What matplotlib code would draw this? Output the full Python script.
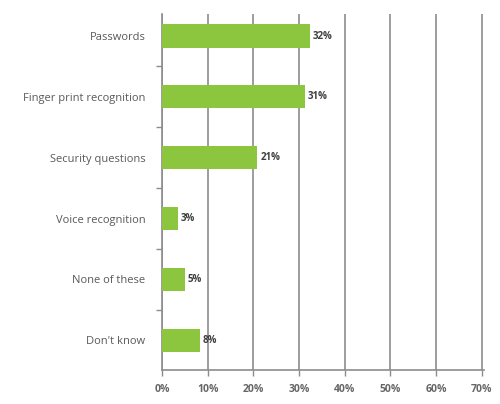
import matplotlib.pyplot as plt
import numpy as np

categories = ["Passwords", "Finger print recognition", "Security questions",
              "Voice recognition", "None of these", "Don't know"]
values = [32.4, 31.3, 20.9, 3.4, 5.0, 8.3]
value_labels = ["32%", "31%", "21%", "3%", "5%", "8%"]
x_ticks = [0, 10, 20, 30, 40, 50, 60, 70]

plt.rcParams['font.family'] = ['Open Sans', 'DejaVu Sans']

fig = plt.figure(figsize=(5.0, 4.04), dpi=100)
ax = fig.add_axes([0.324, 0.084, 0.644, 0.881])

y = np.arange(len(categories))
ax.barh(y, values, height=0.38, color='#8cc63f', zorder=3)

for yi, v, lab in zip(y, values, value_labels):
    ax.text(v + 0.7, yi, lab, va='center', ha='left', fontsize=7,
            fontweight='bold', color='#404040', zorder=4)

ax.set_xlim(0, 70.5)
ax.set_ylim(5.49, -0.36)

ax.set_xticks(x_ticks)
ax.set_xticklabels([f"{t}%" for t in x_ticks], fontsize=7.5,
                   fontweight='bold', color='#666666')
ax.xaxis.grid(True, color='#8c8c8c', linewidth=1.2, zorder=0)
ax.tick_params(axis='x', length=4, width=1, color='#8c8c8c', pad=6)

ax.set_yticks(y)
ax.set_yticklabels(categories, fontsize=8, color='#595959')
ax.set_yticks(np.arange(len(categories) - 1) + 0.5, minor=True)
ax.tick_params(axis='y', which='major', length=0, pad=12)
ax.tick_params(axis='y', which='minor', length=4, width=1, color='#8c8c8c')

for side in ['top', 'right']:
    ax.spines[side].set_visible(False)
for side in ['left', 'bottom']:
    ax.spines[side].set_color('#8c8c8c')
    ax.spines[side].set_linewidth(1.2)

fig.savefig('out.png', dpi=100)
